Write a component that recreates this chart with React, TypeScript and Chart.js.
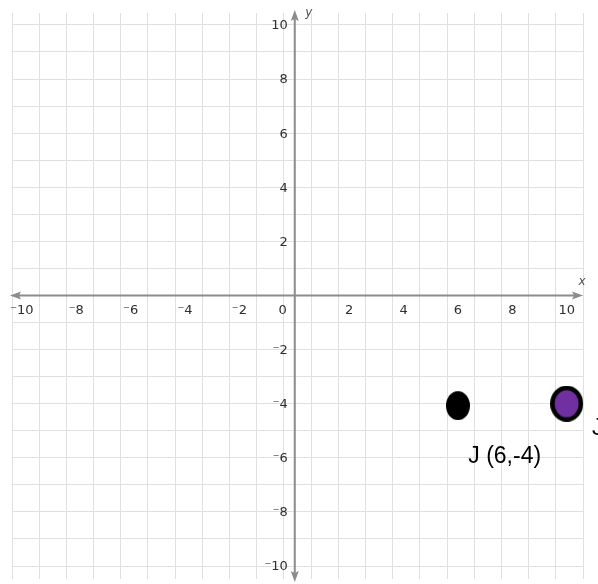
import React, { useEffect, useRef } from "react";
import { Chart, registerables } from "chart.js";

Chart.register(...registerables);

// ---- data ----
const xTickValues = [-10, -8, -6, -4, -2, 2, 4, 6, 8, 10];
const yTickValues = [10, 8, 6, 4, 2, -2, -4, -6, -8, -10];
const pointJ = [{ x: 6, y: -4 }];
const pointJPrime = [{ x: 10, y: -4 }];
const annotations = [
  { text: "J (6,-4)", x: 7.72, y: -5.97, align: "center", baseline: "middle" },
  { text: "J", x: 10.93, y: -4.5, align: "left", baseline: "top" },
];

const fmt = (v: number) => (v < 0 ? "\u207B" + Math.abs(v) : String(v));

function makeEllipse(w: number, h: number, fill: string, stroke: string | null, lw: number, dy = 0) {
  const c = document.createElement("canvas");
  c.width = w;
  c.height = h;
  const ctx = c.getContext("2d")!;
  ctx.beginPath();
  const inset = stroke ? lw / 2 : 0;
  ctx.ellipse(w / 2, h / 2 + dy, w / 2 - inset, h / 2 - inset - Math.abs(dy), 0, 0, Math.PI * 2);
  ctx.fillStyle = fill;
  ctx.fill();
  if (stroke) {
    ctx.lineWidth = lw;
    ctx.strokeStyle = stroke;
    ctx.stroke();
  }
  return c;
}

const axesPlugin = {
  id: "axesPlugin",
  beforeDatasetsDraw(chart: any) {
    const { ctx } = chart;
    const xs = chart.scales.x;
    const ys = chart.scales.y;
    const x0 = xs.getPixelForValue(0);
    const y0 = ys.getPixelForValue(0);
    ctx.save();
    ctx.strokeStyle = "#8c8c8c";
    ctx.fillStyle = "#8c8c8c";
    ctx.lineWidth = 2;
    const xl = 10, xr = 583;
    ctx.beginPath();
    ctx.moveTo(xl + 4, y0);
    ctx.lineTo(xr - 4, y0);
    ctx.stroke();
    const yt = 10, yb = 582;
    ctx.beginPath();
    ctx.moveTo(x0, yt + 4);
    ctx.lineTo(x0, yb - 4);
    ctx.stroke();
    const head = (tx: number, ty: number, dx: number, dy: number) => {
      const L = 11, W = 4;
      const bx = tx - dx * L, by = ty - dy * L;
      ctx.beginPath();
      ctx.moveTo(tx, ty);
      ctx.lineTo(bx - dy * W, by + dx * W);
      ctx.lineTo(bx + dx * 2, by + dy * 2);
      ctx.lineTo(bx + dy * W, by - dx * W);
      ctx.closePath();
      ctx.fill();
    };
    head(xl, y0, -1, 0);
    head(xr, y0, 1, 0);
    head(x0, yt, 0, -1);
    head(x0, yb, 0, 1);
    ctx.restore();
  },
  afterDraw(chart: any) {
    const { ctx } = chart;
    const xs = chart.scales.x;
    const ys = chart.scales.y;
    const x0 = xs.getPixelForValue(0);
    const y0 = ys.getPixelForValue(0);
    ctx.save();
    ctx.fillStyle = "#2e2e2e";
    ctx.font = '13px "DejaVu Sans"';
    ctx.textBaseline = "middle";
    ctx.textAlign = "center";
    for (const v of xTickValues) {
      const off = v < 0 ? -1 : 0;
      ctx.fillText(fmt(v), xs.getPixelForValue(v) + off, y0 + 15);
    }
    ctx.textAlign = "right";
    ctx.fillText("0", x0 - 8, y0 + 15);
    for (const v of yTickValues) {
      ctx.fillText(fmt(v), x0 - 7, ys.getPixelForValue(v) + 1);
    }
    ctx.font = 'italic 12px "DejaVu Sans"';
    ctx.textAlign = "center";
    ctx.fillStyle = "#555";
    ctx.fillText("x", 582, y0 - 14);
    ctx.fillText("y", x0 + 14, 13);

    ctx.fillStyle = "#000";
    ctx.font = '23px "Liberation Sans"';
    for (const a of annotations) {
      ctx.textAlign = a.align as CanvasTextAlign;
      ctx.textBaseline = a.baseline as CanvasTextBaseline;
      ctx.fillText(a.text, xs.getPixelForValue(a.x), ys.getPixelForValue(a.y));
    }
    ctx.restore();
  },
};

export default function App() {
  const ref = useRef<HTMLCanvasElement>(null);
  useEffect(() => {
    document.body.style.margin = "0";
    const blackDot = makeEllipse(24, 33, "#000", null, 0, 2);
    const purpleDot = makeEllipse(33, 36, "#7030A0", "#000", 4.5);
    const chart = new Chart(ref.current!, {
      type: "scatter",
      data: {
        datasets: [
          {
            label: "J",
            data: pointJ,
            pointStyle: blackDot as any,
            backgroundColor: "#000",
            clip: false as any,
          },
          {
            label: "J'",
            data: pointJPrime,
            pointStyle: purpleDot as any,
            backgroundColor: "#7030A0",
            clip: false as any,
          },
        ],
      },
      options: {
        animation: false,
        responsive: true,
        maintainAspectRatio: false,
        layout: { padding: { left: 12, right: 15, top: 13, bottom: 0 } },
        plugins: { legend: { display: false }, tooltip: { enabled: false } },
        scales: {
          x: {
            type: "linear",
            min: -10.4,
            max: 10.6,
            ticks: { display: false, stepSize: 1, includeBounds: false },
            grid: { color: "#e0e0e0", lineWidth: 1, drawTicks: false },
            border: { display: false },
            afterFit: (s: any) => { s.height = 0; },
          },
          y: {
            type: "linear",
            min: -10.48,
            max: 10.44,
            ticks: { display: false, stepSize: 1, includeBounds: false },
            grid: { color: "#e0e0e0", lineWidth: 1, drawTicks: false },
            border: { display: false },
            afterFit: (s: any) => { s.width = 0; },
          },
        },
      },
      plugins: [axesPlugin],
    });
    return () => chart.destroy();
  }, []);
  return (
    <div style={{ position: "fixed", left: 0, top: 0, width: 598, height: 584, background: "#fff" }}>
      <canvas ref={ref} />
    </div>
  );
}
